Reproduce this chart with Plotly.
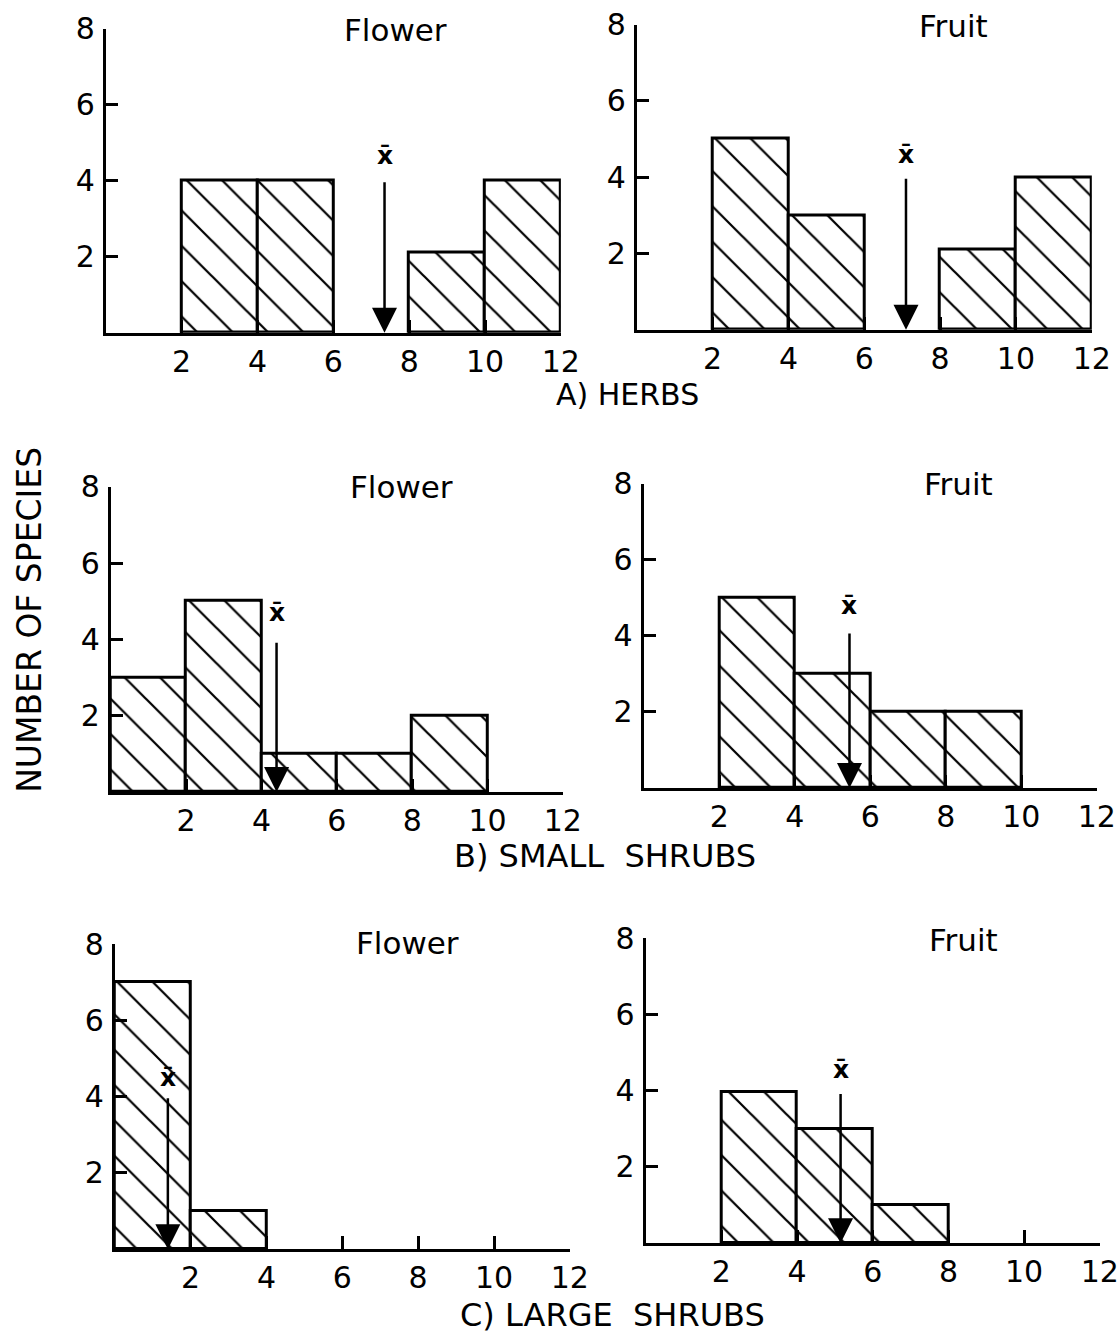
import plotly.graph_objects as go

# ---- data -------------------------------------------------------------
W, H = 1120, 1333

bin_left = [0, 2, 4, 6, 8, 10]          # left edges of 2-unit bins
x_ticks = [2, 4, 6, 8, 10, 12]
y_ticks = [2, 4, 6, 8]

herbs_flower = [0, 4, 4, 0, 2.1, 4]
herbs_fruit = [0, 5, 3, 0, 2.1, 4]
small_flower = [3, 5, 1, 1, 2, 0]
small_fruit = [0, 5, 3, 2, 2, 0]
large_flower = [7, 1, 0, 0, 0, 0]
large_fruit = [0, 3.95, 3, 1, 0, 0]

# mean markers: x position, height of the arrow tail, height of the label
herbs_flower_mean = 7.35
herbs_fruit_mean = 7.1
small_flower_mean = 4.4
small_fruit_mean = 5.45
large_flower_mean = 1.4
large_fruit_mean = 5.15
arrow_tail = [4.0, 4.0, 3.95, 4.1, 4.0, 3.95]
label_level = [4.65, 4.6, 4.7, 4.8, 4.5, 4.55]

panel_titles = ["Flower", "Fruit"] * 3
row_labels = ["A) HERBS", "B) SMALL  SHRUBS", "C) LARGE  SHRUBS"]
y_title = "NUMBER OF SPECIES"

series = [herbs_flower, herbs_fruit, small_flower, small_fruit, large_flower, large_fruit]
means = [herbs_flower_mean, herbs_fruit_mean, small_flower_mean,
         small_fruit_mean, large_flower_mean, large_fruit_mean]

# ---- layout geometry (pixels: x at value 0, x at value 12, y at 0, y at 8)
boxes = [
    (106, 562, 333, 29),
    (638, 1094, 330, 25),
    (111, 564, 792, 487),
    (645, 1099, 788, 484),
    (115, 571, 1249, 944),
    (647, 1102, 1243, 938),
]
title_pos = [(396, 30), (955, 26), (402, 487), (960, 484), (408, 943), (965, 940)]
row_label_pos = [(629, 395), (606, 856), (614, 1315)]
row_label_size = [30, 32, 32]
y_title_pos = (30, 620)

FONT = "DejaVu Sans"

# the page is captured slightly reduced and anchored to the bottom-left,
# so pixel targets are mapped through that capture transform
SX, SY, OY = 0.985, 0.986, 18.4


def px(x):
    return (x / SX) / W


def py(y):
    return 1 - ((y - OY) / SY) / H


fig = go.Figure()
annotations = []
layout_axes = {}

for i, (vals, mean) in enumerate(zip(series, means)):
    n = i + 1
    xa = "x" if n == 1 else f"x{n}"
    ya = "y" if n == 1 else f"y{n}"
    xs = [b + 1 for b, v in zip(bin_left, vals) if v > 0]
    ys = [v for v in vals if v > 0]
    fig.add_trace(go.Bar(
        x=xs, y=ys, width=2, xaxis=xa, yaxis=ya,
        marker=dict(
            color="white",
            line=dict(color="black", width=3),
            pattern=dict(shape="\\", size=25, solidity=0.09,
                         fgcolor="black", bgcolor="white", fgopacity=1),
        ),
        showlegend=False, hoverinfo="skip",
    ))

    x0, x12, y0, y8 = boxes[i]
    axis_common = dict(
        showline=True, linecolor="black", linewidth=3,
        ticks="inside", tickcolor="black", tickwidth=3,
        showgrid=False, zeroline=False, fixedrange=True,
        tickfont=dict(family=FONT, size=30, color="black"),
    )
    layout_axes["xaxis" if n == 1 else f"xaxis{n}"] = dict(
        axis_common, domain=[px(x0), min(px(x12), 1.0)], range=[0, 12],
        tickvals=x_ticks, ticktext=[str(t) for t in x_ticks],
        ticklen=13, anchor=ya,
    )
    layout_axes["yaxis" if n == 1 else f"yaxis{n}"] = dict(
        axis_common, domain=[py(y0), min(py(y8), 1.0)], range=[0, 8],
        tickvals=y_ticks, ticktext=[str(t) for t in y_ticks],
        ticklen=12, anchor=xa, ticklabelstandoff=2,
    )

    # arrow marking the mean
    annotations.append(dict(
        x=mean, y=0, ax=mean, ay=arrow_tail[i], xref=xa, yref=ya,
        axref=xa, ayref=ya, text="", showarrow=True,
        arrowhead=2, arrowsize=2.0, arrowwidth=2.5, arrowcolor="black",
        standoff=0, startstandoff=0,
    ))
    annotations.append(dict(
        x=mean, y=label_level[i], xref=xa, yref=ya, text="<b>x̄</b>",
        showarrow=False, yanchor="middle", xanchor="center",
        font=dict(family=FONT, size=25, color="black"),
    ))

    tx, ty = title_pos[i]
    annotations.append(dict(
        x=px(tx), y=py(ty), xref="paper", yref="paper", text=panel_titles[i],
        showarrow=False, xanchor="center", yanchor="middle",
        font=dict(family=FONT, size=31, color="black"),
    ))

for text, (lx, ly), fs in zip(row_labels, row_label_pos, row_label_size):
    annotations.append(dict(
        x=px(lx), y=py(ly), xref="paper", yref="paper", text=text,
        showarrow=False, xanchor="center", yanchor="middle",
        font=dict(family=FONT, size=fs, color="black"),
    ))

annotations.append(dict(
    x=px(y_title_pos[0]), y=py(y_title_pos[1]), xref="paper", yref="paper",
    text=y_title, showarrow=False, textangle=-90,
    xanchor="center", yanchor="middle",
    font=dict(family=FONT, size=33, color="black"),
))

fig.update_layout(
    width=W, height=H,
    margin=dict(l=0, r=0, t=0, b=0),
    paper_bgcolor="white", plot_bgcolor="white",
    bargap=0, annotations=annotations,
    **layout_axes,
)

# page without body margin so the figure fills the window exactly
fig.write_html(
    "out.html",
    post_script="document.body.style.margin='0';document.body.style.overflow='hidden';",
)
